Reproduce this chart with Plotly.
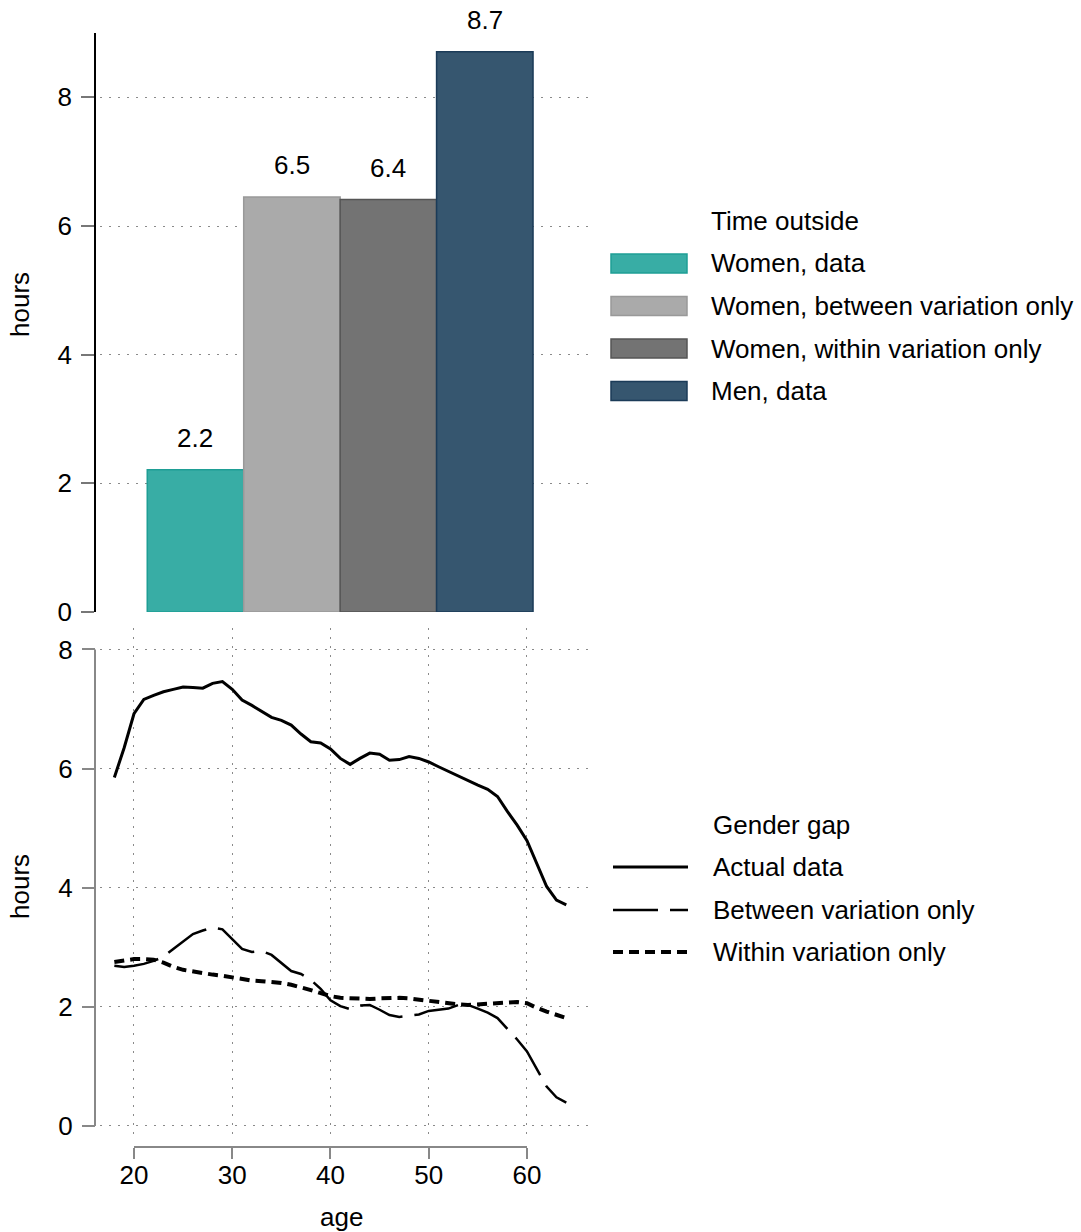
import plotly.graph_objects as go

W, H = 1081, 1232
FONT = "Liberation Sans, Arial, sans-serif"
FS = 26

# ---------------- data ----------------
bar_groups = ["Women, data", "Women, between variation only",
              "Women, within variation only", "Men, data"]
bar_hours = [2.21, 6.45, 6.41, 8.71]
bar_labels = ["2.2", "6.5", "6.4", "8.7"]
bar_fill = ["#38ADA5", "#AAAAAA", "#737373", "#36566F"]
bar_edge = ["#1E9E95", "#999999", "#555555", "#1B3B58"]

ages = list(range(18, 65))
gap_actual = [5.85, 6.35, 6.92, 7.16, 7.23, 7.29, 7.33, 7.37, 7.36, 7.35,
              7.43, 7.46, 7.33, 7.15, 7.06, 6.96, 6.86, 6.81, 6.73, 6.58,
              6.45, 6.43, 6.33, 6.17, 6.07, 6.17, 6.26, 6.24, 6.14, 6.15,
              6.20, 6.17, 6.11, 6.03, 5.95, 5.87, 5.79, 5.72, 5.65, 5.53,
              5.28, 5.05, 4.79, 4.41, 4.02, 3.79, 3.71]
gap_between = [2.69, 2.67, 2.69, 2.72, 2.77, 2.84, 2.97, 3.10, 3.22, 3.28,
               3.33, 3.30, 3.14, 2.97, 2.92, 2.94, 2.87, 2.73, 2.60, 2.55,
               2.45, 2.30, 2.11, 2.01, 1.96, 2.02, 2.03, 1.95, 1.86, 1.83,
               1.85, 1.87, 1.93, 1.95, 1.97, 2.03, 2.03, 1.97, 1.90, 1.81,
               1.63, 1.45, 1.25, 0.95, 0.66, 0.48, 0.39]
gap_within = [2.75, 2.78, 2.80, 2.80, 2.79, 2.74, 2.67, 2.62, 2.59, 2.56,
              2.54, 2.52, 2.49, 2.47, 2.44, 2.43, 2.42, 2.40, 2.37, 2.33,
              2.28, 2.23, 2.18, 2.15, 2.14, 2.13, 2.13, 2.14, 2.15, 2.15,
              2.14, 2.12, 2.09, 2.07, 2.05, 2.04, 2.03, 2.04, 2.05, 2.07,
              2.08, 2.08, 2.06, 1.98, 1.92, 1.86, 1.81]
line_series = [gap_actual, gap_between, gap_within]
line_names = ["Actual data", "Between variation only", "Within variation only"]
line_dash = ["solid", "45px,12px", "10px,6px"]
line_width = [3, 2.5, 4]

y_ticks = [0, 2, 4, 6, 8]
age_ticks = [20, 30, 40, 50, 60]


def px(x):
    return x / W


def py(y):
    return 1 - y / H


fig = go.Figure()

fig.add_trace(go.Bar(
    x=bar_groups, y=bar_hours, width=1,
    marker=dict(color=bar_fill, line=dict(color=bar_edge, width=1.5)),
    xaxis="x", yaxis="y", showlegend=False, hoverinfo="x+y"))

for vals, name, dash, wd in zip(line_series, line_names, line_dash, line_width):
    fig.add_trace(go.Scatter(
        x=ages, y=vals, mode="lines", name=name,
        line=dict(color="black", width=wd, dash=dash),
        xaxis="x2", yaxis="y2", showlegend=False))

grid = dict(showgrid=True, gridcolor="#8a8a8a", gridwidth=1, griddash="2px,7px",
            automargin=False)
xdom = [px(100), px(588)]
axis_pos = px(95)

fig.update_layout(
    template="none",
    width=W, height=H,
    margin=dict(l=0, r=0, t=0, b=0, autoexpand=False),
    paper_bgcolor="white", plot_bgcolor="white",
    font=dict(family=FONT, size=FS, color="black"),
    xaxis=dict(domain=xdom, anchor="y", type="category",
               range=[-0.99, 4.07], showticklabels=False, showgrid=False,
               zeroline=False, showline=False, ticks="", automargin=False),
    yaxis=dict(domain=[py(612), py(33)], anchor="free", position=axis_pos,
               range=[0, 9], tickvals=y_ticks, zeroline=False,
               showline=True, linecolor="black", linewidth=1.5,
               ticks="outside", ticklen=13, tickwidth=1.5, tickcolor="#777777",
               ticklabelstandoff=4, **grid),
    xaxis2=dict(domain=xdom, anchor="free", position=py(1147),
                range=[16.54, 66.21], tickvals=age_ticks, zeroline=False,
                showline=False, ticks="outside", ticklen=11, tickwidth=2,
                tickcolor="#888888", ticklabelstandoff=-6, **grid),
    yaxis2=dict(domain=[py(1136), py(628)], anchor="free", position=axis_pos,
                range=[-0.17, 8.36], tickvals=y_ticks, zeroline=False,
                showline=False, ticks="outside", ticklen=13, tickwidth=2,
                tickcolor="#888888", ticklabelstandoff=4, **grid),
)

shapes = []
# range-frame axis lines for the lower panel
shapes.append(dict(type="line", xref="paper", yref="y2", x0=axis_pos, x1=axis_pos,
                   y0=0, y1=8, line=dict(color="#888888", width=2)))
shapes.append(dict(type="line", xref="x2", yref="paper", x0=20, x1=60,
                   y0=py(1147), y1=py(1147), line=dict(color="#888888", width=2)))

annotations = []
# axis titles
annotations.append(dict(x=px(20), y=py(305), xref="paper", yref="paper",
                        text="hours", textangle=-90, showarrow=False,
                        xanchor="center", yanchor="middle"))
annotations.append(dict(x=px(20), y=py(887), xref="paper", yref="paper",
                        text="hours", textangle=-90, showarrow=False,
                        xanchor="center", yanchor="middle"))
annotations.append(dict(x=px(341), y=py(1217), xref="paper", yref="paper",
                        text="age", showarrow=False,
                        xanchor="center", yanchor="middle"))

# bar value labels
for g, v, lab in zip(bar_groups, bar_hours, bar_labels):
    annotations.append(dict(x=g, y=v, xref="x", yref="y", text=lab, showarrow=False,
                            yanchor="middle", yshift=32, font=dict(size=FS)))

# legend: Time outside
annotations.append(dict(x=px(709), y=py(221), xref="paper", yref="paper",
                        text="Time outside", showarrow=False,
                        xanchor="left", yanchor="middle"))
leg_y = [263.5, 306, 348.5, 391]
for name, fc, ec, yy in zip(bar_groups, bar_fill, bar_edge, leg_y):
    shapes.append(dict(type="rect", xref="paper", yref="paper",
                       x0=px(611), x1=px(687), y0=py(yy + 9.5), y1=py(yy - 9.5),
                       fillcolor=fc, line=dict(color=ec, width=1.5)))
    annotations.append(dict(x=px(709), y=py(yy), xref="paper", yref="paper",
                            text=name, showarrow=False,
                            xanchor="left", yanchor="middle"))

# legend: Gender gap
annotations.append(dict(x=px(711), y=py(825), xref="paper", yref="paper",
                        text="Gender gap", showarrow=False,
                        xanchor="left", yanchor="middle"))
leg2_y = [867, 910, 952]
for name, dash, wd, yy in zip(line_names, line_dash, line_width, leg2_y):
    shapes.append(dict(type="line", xref="paper", yref="paper",
                       x0=px(613), x1=px(688), y0=py(yy), y1=py(yy),
                       line=dict(color="black", width=wd, dash=dash)))
    annotations.append(dict(x=px(711), y=py(yy), xref="paper", yref="paper",
                            text=name, showarrow=False,
                            xanchor="left", yanchor="middle"))

fig.update_layout(shapes=shapes, annotations=annotations)

fig.write_html("out.html")
